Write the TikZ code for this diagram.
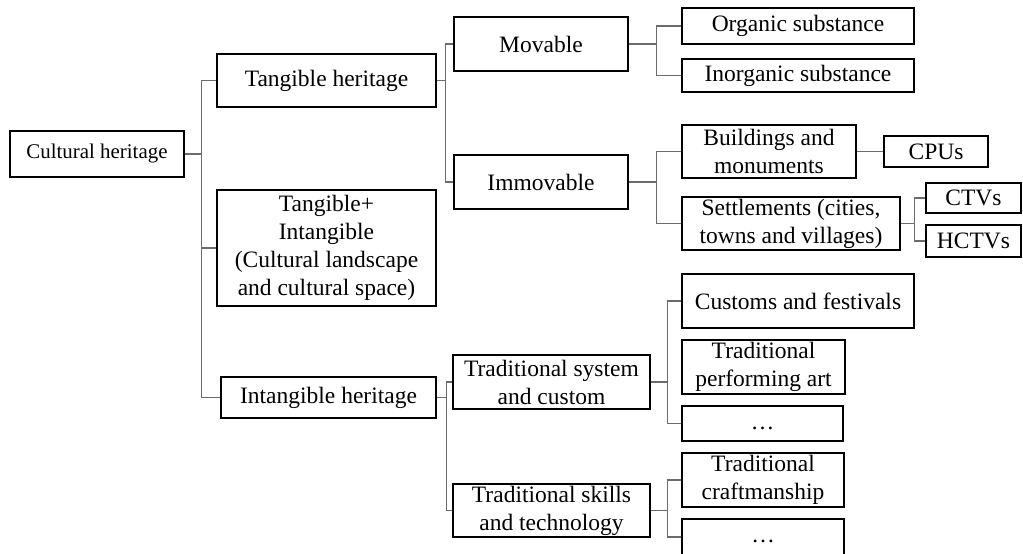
\documentclass[tikz,border=0pt]{standalone}
\usepackage{fontspec}
\setmainfont{Liberation Serif}
\begin{document}
\begin{tikzpicture}[x=1pt,y=-1pt,
  box/.style={draw=black, line width=1.4pt, align=center, inner sep=0pt,
    font=\fontsize{23.5}{28}\selectfont},
  conn/.style={draw=black!58, line width=1.2pt}]
\useasboundingbox (0,0) rectangle (1023,554);

% level 0 and 1
\node[box, minimum width=174pt, minimum height=46pt,
  font=\fontsize{20.9}{25}\selectfont] (cult) at (97,154) {Cultural heritage};
\node[box, minimum width=219pt, minimum height=53pt] (tang) at (326.5,80.5) {Tangible heritage};
\node[box, minimum width=219pt, minimum height=116pt] (ti) at (326.5,248)
  {Tangible+\\Intangible\\(Cultural landscape\\and cultural space)};
\node[box, minimum width=215pt, minimum height=41pt] (intang) at (328.5,397.5) {Intangible heritage};

% tangible branch
\node[box, minimum width=174pt, minimum height=54pt] (mov) at (541,44) {Movable};
\node[box, minimum width=174pt, minimum height=54pt] (immov) at (541,182) {Immovable};
\node[box, minimum width=232pt, minimum height=36pt] (org) at (798,26) {Organic substance};
\node[box, minimum width=232pt, minimum height=33pt] (inorg) at (798,75.5) {Inorganic substance};
\node[box, minimum width=174pt, minimum height=53pt] (build) at (769,151.5) {Buildings and\\monuments};
\node[box, minimum width=104pt, minimum height=31pt] (cpus) at (936,151.5) {CPUs};
\node[box, minimum width=218pt, minimum height=53pt] (settle) at (791,223.5)
  {Settlements (cities,\\towns and villages)};
\node[box, minimum width=95pt, minimum height=30pt] (ctvs) at (973.5,198) {CTVs};
\node[box, minimum width=95pt, minimum height=32pt] (hctvs) at (973.5,241) {HCTVs};

% intangible branch
\node[box, minimum width=197pt, minimum height=54pt] (tsys) at (551.5,382)
  {Traditional system\\and custom};
\node[box, minimum width=197pt, minimum height=53pt] (tskill) at (551.5,510.5)
  {Traditional skills\\and technology};
\node[box, minimum width=232pt, minimum height=54pt] (cust) at (798,301) {Customs and festivals};
\node[box, minimum width=163pt, minimum height=54pt] (perf) at (763.5,367)
  {Traditional\\performing art};
\node[box, minimum width=161pt, minimum height=35pt] (dotsa) at (762.5,423.5) {\strut…};
\node[box, minimum width=162pt, minimum height=54pt] (craft) at (763,480)
  {Traditional\\craftmanship};
\node[box, minimum width=162pt, minimum height=36pt] (dotsb) at (763,537) {\strut…};

% elbow connectors
\foreach \c in {tang,ti,intang} \draw[conn] (cult.east) -- ++(17,0) |- (\c.west);
\foreach \c in {mov,immov} \draw[conn] (tang.east) -- ++(9,0) |- (\c.west);
\foreach \c in {org,inorg} \draw[conn] (mov.east) -- ++(28,0) |- (\c.west);
\foreach \c in {build,settle} \draw[conn] (immov.east) -- ++(28,0) |- (\c.west);
\draw[conn] (build.east) -- (cpus.west);
\foreach \c in {ctvs,hctvs} \draw[conn] (settle.east) -- ++(14,0) |- (\c.west);
\foreach \c in {tsys,tskill} \draw[conn] (intang.east) -- ++(10,0) |- (\c.west);
\foreach \c in {cust,dotsa} \draw[conn] (tsys.east) -- ++(17,0) |- (\c.west);
\foreach \c in {craft,dotsb} \draw[conn] (tskill.east) -- ++(17,0) |- (\c.west);
\end{tikzpicture}
\end{document}
